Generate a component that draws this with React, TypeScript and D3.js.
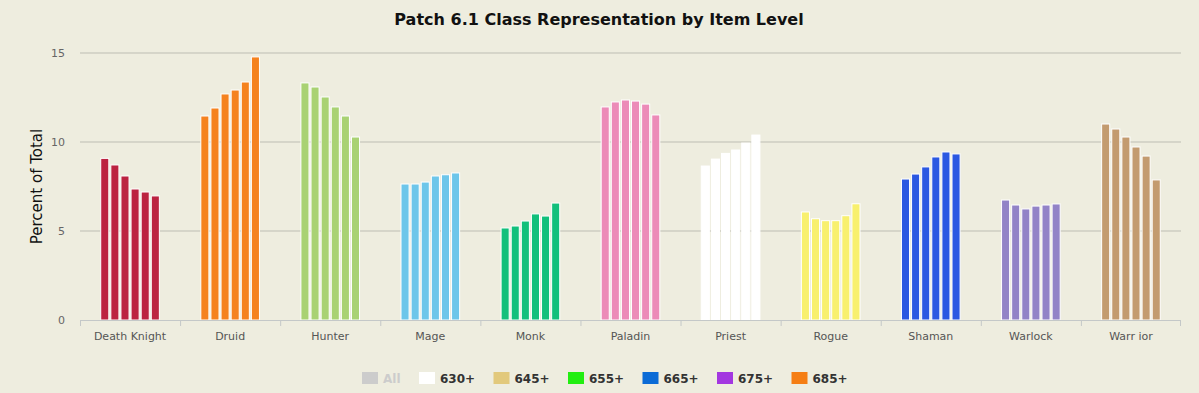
import React from "react";
import * as d3 from "d3";

const categories = ["Death Knight", "Druid", "Hunter", "Mage", "Monk", "Paladin", "Priest", "Rogue", "Shaman", "Warlock", "Warr ior"];
const classColors = ["#bc2341", "#f5821f", "#a9d273", "#6dc6ea", "#12c07c", "#ec8bb8", "#ffffff", "#f8f06e", "#2b58e2", "#9283c7", "#c39b6f"];
const seriesNames = ["630+", "645+", "655+", "665+", "675+", "685+"];
const legendNames = ["All", "630+", "645+", "655+", "665+", "675+", "685+"];
const legendColors = ["#cccccc", "#ffffff", "#e2c97c", "#22ee11", "#0b6bd6", "#a337e0", "#f57e14"];
const s630 = [9.08, 11.46, 13.32, 7.64, 5.17, 11.97, 8.65, 6.07, 7.92, 6.74, 11.01];
const s645 = [8.71, 11.91, 13.09, 7.64, 5.28, 12.25, 9.04, 5.69, 8.2, 6.46, 10.73];
const s655 = [8.09, 12.7, 12.53, 7.75, 5.56, 12.36, 9.36, 5.58, 8.6, 6.24, 10.28];
const s665 = [7.36, 12.92, 11.97, 8.09, 5.96, 12.3, 9.55, 5.58, 9.16, 6.4, 9.72];
const s675 = [7.19, 13.37, 11.46, 8.16, 5.84, 12.13, 9.94, 5.86, 9.44, 6.46, 9.21];
const s685 = [6.97, 14.78, 10.28, 8.26, 6.57, 11.52, 10.39, 6.53, 9.33, 6.52, 7.87];
const seriesValues = [s630, s645, s655, s665, s675, s685];
const yTicks = [0, 5, 10, 15];

const W = 1199, H = 393;
const left = 80, right = 1181, top = 53, bottom = 320;

export default function App() {
  const x = d3.scaleBand<string>().domain(categories).range([left, right]).paddingInner(0).paddingOuter(0);
  const y = d3.scaleLinear().domain([0, 15]).range([bottom, top]);
  const inner = d3.scaleBand<string>().domain(seriesNames).range([0, x.bandwidth()]).paddingInner(0.3).paddingOuter(2.1);
  const font = "'DejaVu Sans', Verdana, sans-serif";
  // legend flow layout
  const legendX: number[] = [];
  let cx = 362;
  legendNames.forEach((n) => {
    legendX.push(cx);
    const tw = n === "All" ? 16 : 33.5;
    cx += 21 + tw + 20;
  });
  return (
    <svg width={W} height={H} style={{ position: "absolute", left: 0, top: 0, background: "#eeeddf" }}>
      <rect x={0} y={0} width={W} height={H} fill="#eeeddf" />
      <text x={599} y={25} textAnchor="middle" fontFamily={font} fontWeight="bold" fontSize={16} fill="#111">
        Patch 6.1 Class Representation by Item Level
      </text>
      {yTicks.map((t) => (
        <g key={t}>
          {t > 0 && <line x1={left} x2={right} y1={y(t)} y2={y(t)} stroke="#bdbdb3" strokeWidth={1} />}
          <text x={65} y={y(t) + 4} textAnchor="end" fontFamily={font} fontSize={11} fill="#666">{t}</text>
        </g>
      ))}
      <text transform={`translate(42,${(top + bottom) / 2}) rotate(-90)`} textAnchor="middle" fontFamily={font} fontSize={15} fill="#111">
        Percent of Total
      </text>
      {categories.map((c, ci) => (
        <g key={c}>
          {seriesValues.map((vals, si) => (
            <rect key={si} x={(x(c) as number) + (inner(seriesNames[si]) as number) - 0.5} y={y(vals[ci])} width={inner.bandwidth() + 1} height={bottom - y(vals[ci])} fill={classColors[ci]} stroke="#ffffff" strokeWidth={1} />
          ))}
        </g>
      ))}
      <line x1={left} x2={right} y1={bottom + 0.5} y2={bottom + 0.5} stroke="#c4c8c8" />
      {categories.map((c) => (
        <line key={c} x1={(x(c) as number) + 0.5} x2={(x(c) as number) + 0.5} y1={bottom} y2={bottom + 6} stroke="#c4c8c8" />
      ))}
      <line x1={right - 0.5} x2={right - 0.5} y1={bottom} y2={bottom + 6} stroke="#c4c8c8" />
      {categories.map((c) => (
        <text key={c} x={(x(c) as number) + x.bandwidth() / 2} y={340} textAnchor="middle" fontFamily={font} fontSize={11} fill="#555">{c}</text>
      ))}
      {legendNames.map((n, i) => {
        const lx = legendX[i];
        return (
          <g key={n}>
            <rect x={lx} y={372} width={16} height={12} fill={legendColors[i]} />
            <text x={lx + 21} y={383} fontFamily={font} fontWeight="bold" fontSize={12} fill={i === 0 ? "#cccccc" : "#333"}>{n}</text>
          </g>
        );
      })}
    </svg>
  );
}
